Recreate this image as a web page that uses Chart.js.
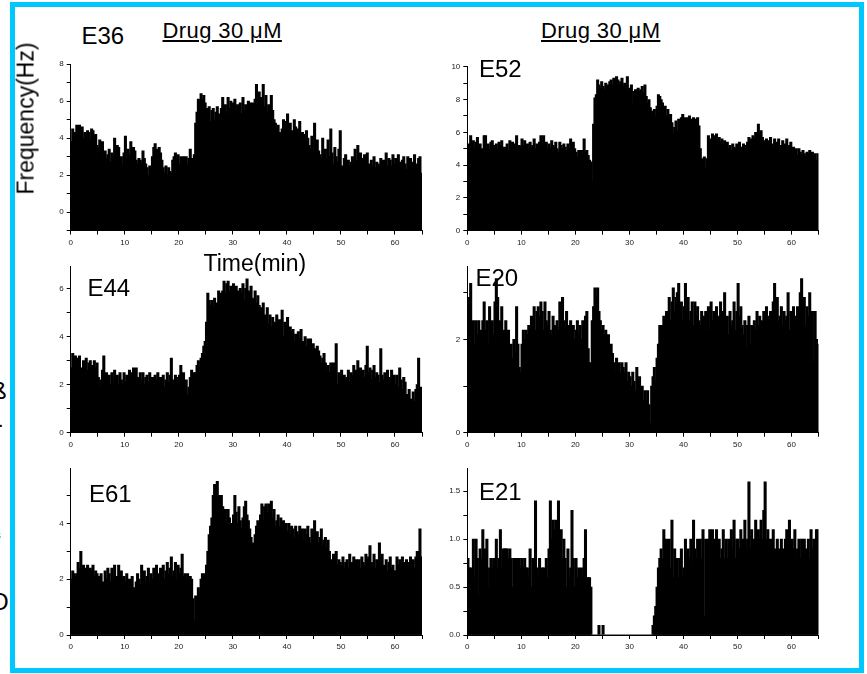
<!DOCTYPE html>
<html><head><meta charset="utf-8">
<script src="https://cdn.jsdelivr.net/npm/chart.js@4.4.0/dist/chart.umd.min.js"></script>
<style>
html,body{margin:0;padding:0;background:#fff;}
body{width:867px;height:674px;position:relative;overflow:hidden;font-family:"Liberation Sans",Arial,sans-serif;}
.frame{position:absolute;left:10px;top:2px;width:844px;height:661px;border:5px solid #00C8FF;}
canvas{position:absolute;}
.t{position:absolute;white-space:nowrap;color:#000;line-height:1;}
.clip{position:absolute;left:0;top:0;width:9px;height:674px;overflow:hidden;}
</style></head>
<body>
<div class="frame"></div>
<div class="clip" id="clip"></div>
<script>
// ---------- DATA (firing frequency, Hz, 0.25-min bins over 0-65 min) ----------
const xTicksMin = [0,10,20,30,40,50,60];
const binCount = 260;
const binWidthMin = 0.25;
const panelNames = ['E36','E52','E44','E20','E61','E21'];
const drugLabel = 'Drug 30 \u03bcM';

const e36 = [3.8,4.5,4.2,4.3, 4.7,4.2,4.7,4.4, 4.6,4.0,4.3,4.1, 4.4,4.3,3.9,4.5, 4.4,4.1,4.2,3.6,
 3.5,3.9,3.3,3.8, 3.0,3.3,2.9,3.1, 3.4,2.7,3.2,2.9, 4.0,3.0,3.6,3.5, 2.6,3.0,2.5,3.2,
 4.1,2.9,3.4,3.1, 3.8,2.8,3.5,3.3, 2.8,2.6,2.9,2.8, 2.7,3.3,2.9,2.6, 2.4,2.0,2.5,2.3,
 3.0,3.5,3.7,3.4, 3.1,3.5,3.2,2.8, 2.4,2.1,2.5,2.0, 2.4,2.2,2.1,2.8, 3.0,3.2,2.9,3.1,
 2.6,3.0,2.5,3.0, 2.8,3.0,2.6,2.9, 3.4,2.9,2.5,3.1, 4.8,5.4,6.1,6.0, 6.4,6.1,6.3,5.9,
 5.6,5.3,5.7,4.9, 5.5,5.6,5.0,5.4, 5.7,5.3,4.9,5.6, 6.2,5.5,5.8,5.3, 6.2,5.6,6.0,5.7,
 5.9,6.1,5.4,5.8, 5.0,5.9,5.3,6.2, 5.5,5.8,5.7,6.0, 5.9,5.6,5.9,5.8, 6.1,6.9,6.0,6.5,
 6.2,5.8,6.9,5.7, 6.3,5.4,5.8,5.2, 6.3,5.5,5.0,4.8, 4.5,4.7,4.3,4.1, 4.5,5.0,4.4,4.9,
 5.3,4.6,4.8,4.4, 4.3,5.0,4.6,4.2, 4.5,4.9,3.9,4.3, 4.2,3.8,4.4,4.0, 3.6,3.4,4.1,3.3,
 4.8,3.5,3.9,3.3, 3.1,2.9,4.0,3.2, 3.4,2.8,3.9,3.0, 4.5,3.2,2.6,3.5, 3.0,2.7,3.4,4.4,
 2.5,2.3,2.9,3.1, 2.4,2.8,2.5,2.7, 3.0,2.6,3.4,2.8, 3.6,2.9,3.2,2.5, 2.9,3.1,2.4,3.2,
 2.6,2.3,2.8,2.5, 3.0,2.4,2.7,2.6, 2.5,2.9,2.3,2.8, 2.6,3.2,2.5,2.9, 2.8,2.5,3.1,2.6,
 2.9,2.4,3.1,2.7, 2.5,2.8,3.0,2.6, 2.3,3.0,2.6,2.9, 2.5,2.7,3.1,2.4, 2.6,2.9,3.0,2.1];

const e52 = [5.1,5.3,5.8,5.2, 5.5,5.0,5.4,5.7, 5.1,5.3,5.0,4.9, 5.8,5.8,5.1,5.3, 5.0,5.4,5.5,5.2,
 5.1,5.3,5.0,5.4, 5.2,5.5,4.9,5.1, 5.0,5.3,4.9,5.5, 5.1,5.4,5.0,5.3, 5.8,5.0,5.2,5.1,
 5.6,5.2,5.5,5.0, 5.3,4.9,5.4,5.1, 5.2,5.6,5.0,5.3, 5.1,5.4,5.8,5.2, 5.8,5.1,5.4,5.0,
 5.3,5.0,5.5,5.2, 5.1,5.4,5.0,4.8, 5.4,5.2,5.0,5.3, 5.1,4.9,5.3,5.0, 5.6,5.2,5.4,5.0,
 4.8,4.5,4.9,4.6, 4.9,4.7,5.6,4.8, 4.9,4.6,4.3,4.2, 3.0,6.5,8.1,8.3, 9.2,8.9,8.7,9.1,
 8.8,8.6,9.0,8.8, 8.9,9.1,9.2,8.9, 9.3,9.0,9.4,9.2, 8.9,9.1,9.3,8.8, 9.0,8.8,9.4,8.6,
 8.7,8.9,7.7,8.5, 8.6,8.4,8.7,8.5, 8.6,8.8,8.4,8.9, 8.2,7.8,8.0,7.5, 7.3,6.9,7.4,7.0,
 7.6,8.3,8.2,8.0, 7.8,7.2,7.6,7.0, 7.4,6.9,7.1,6.6, 5.9,6.3,6.7,6.1, 6.8,6.4,6.9,7.1,
 6.6,6.9,6.5,6.9, 7.0,6.7,6.8,6.9, 6.5,6.8,6.9,6.4, 5.0,4.4,4.0,4.5, 3.8,4.4,5.8,5.4,
 5.6,5.9,5.3,5.8, 5.9,5.5,5.7,5.4, 5.6,5.3,5.5,5.2, 5.4,5.0,5.2,4.9, 5.3,5.1,5.0,5.3,
 5.2,5.4,5.1,5.0, 5.3,5.1,5.2,5.4, 5.7,5.5,5.6,5.8, 5.6,6.0,5.8,6.5, 5.9,6.1,5.7,5.5,
 5.4,5.6,5.2,5.5, 5.7,5.3,5.1,5.6, 5.0,5.4,5.6,5.1, 5.2,5.5,4.9,5.3, 5.6,5.0,5.2,5.4,
 4.9,5.1,4.7,5.0, 4.6,5.0,4.8,4.6, 4.9,4.7,4.5,4.8, 4.7,4.9,4.6,4.8, 4.5,4.7,4.3,4.7];

const e44 = [2.7,3.3,3.1,3.2, 3.1,2.9,3.2,2.7, 2.6,3.0,2.8,3.1, 2.6,2.9,3.0,2.8, 2.5,3.0,2.7,2.9,
 2.3,1.9,2.2,2.6, 3.2,2.3,2.5,2.1, 2.4,2.0,2.5,2.2, 2.6,2.1,2.4,2.0, 2.5,2.2,2.0,2.5,
 2.1,2.4,2.0,2.6, 2.5,2.2,2.7,2.1, 2.7,2.3,2.0,2.5, 2.2,2.5,2.0,2.3, 2.4,2.1,2.5,2.0,
 2.3,2.0,2.4,2.2, 2.5,2.1,2.3,2.0, 2.4,1.9,2.2,2.5, 2.1,2.4,3.1,2.2, 2.0,2.4,2.3,2.1,
 2.4,2.8,2.2,2.5, 2.0,2.2,1.6,1.9, 2.3,2.6,2.2,2.5, 2.5,2.8,3.0,2.7, 3.1,3.3,3.6,3.8,
 4.6,5.8,5.5,5.3, 5.5,5.2,5.6,5.3, 5.4,5.9,5.6,5.8, 5.9,6.3,5.8,6.2, 6.3,5.9,6.1,5.7,
 6.2,5.8,6.1,5.9, 5.7,6.0,5.8,6.2, 5.5,6.0,6.4,5.9, 5.8,6.1,5.6,5.5, 5.9,5.4,5.7,5.3,
 5.2,5.0,5.4,4.9, 4.7,5.2,4.5,4.9, 4.4,4.8,4.0,4.6, 4.9,4.2,4.7,4.1, 5.1,4.0,4.6,4.3,
 4.8,3.9,4.4,4.2, 4.3,3.8,4.1,4.0, 4.2,3.9,4.3,3.8, 3.7,4.0,3.6,3.9, 3.6,3.9,3.5,3.7,
 3.5,3.3,3.6,3.4, 3.2,2.9,3.1,3.3, 2.9,2.6,2.8,2.5, 2.9,2.7,2.9,2.6, 3.7,2.0,2.5,2.3,
 2.6,2.1,2.4,2.2, 2.3,2.6,2.1,2.5, 2.4,2.8,2.3,2.6, 3.0,2.4,2.7,2.2, 2.6,2.3,2.8,3.6,
 2.5,2.7,2.2,2.6, 2.8,2.3,2.5,2.4, 2.1,3.5,2.4,2.2, 2.5,2.0,2.6,2.3, 2.2,2.6,2.0,2.4,
 2.0,2.4,1.9,2.7, 2.2,1.8,2.3,2.1, 1.6,1.2,1.8,1.4, 0.7,1.7,1.3,1.8, 2.0,3.1,0.3,1.9];

const e20 = [1.9,2.9,3.2,2.3, 2.4,1.9,2.4,2.1, 2.4,1.8,2.2,2.4, 2.8,2.2,2.4,1.9, 2.7,2.0,2.4,2.1,
 2.8,3.3,2.9,2.1, 2.4,2.7,1.6,2.2, 2.4,1.8,2.2,1.8, 1.9,1.6,2.0,1.7, 2.7,1.9,1.4,1.3,
 1.9,2.2,2.0,2.2, 2.1,2.3,2.0,2.5, 2.3,2.7,2.2,2.6, 2.7,2.5,2.8,2.6, 2.2,2.8,2.4,2.3,
 2.6,2.2,2.1,2.5, 2.3,2.1,2.4,2.2, 2.8,2.5,2.9,2.4, 2.2,2.6,2.0,2.3, 2.4,2.1,2.3,2.0,
 2.2,2.4,2.1,2.3, 2.0,2.4,2.2,2.5, 2.6,1.8,1.5,0.5, 2.4,2.7,3.1,2.9, 3.1,2.6,2.4,2.2,
 2.3,2.1,2.2,2.0, 2.1,1.8,1.9,1.7, 1.5,1.3,1.6,1.4, 1.5,1.3,1.5,1.4, 1.3,1.5,1.1,1.3,
 1.2,1.0,1.3,1.1, 0.9,1.4,1.0,1.2, 0.8,1.0,0.7,0.9, 0.7,0.9,0.6,0.2, 1.0,1.2,1.4,1.1,
 1.6,1.9,2.3,2.3, 2.3,2.5,2.4,2.6, 2.5,2.9,2.4,2.8, 3.1,2.6,2.9,3.0, 3.2,2.5,2.8,2.4,
 2.7,3.2,2.5,2.9, 2.4,2.6,2.8,2.3, 2.8,2.5,2.7,2.4, 2.3,2.6,2.2,2.5, 2.6,2.3,2.7,2.2,
 2.8,2.4,2.6,2.3, 2.7,2.2,2.5,2.8, 2.3,2.6,3.0,2.2, 2.5,2.1,2.6,2.3, 2.4,2.8,2.2,2.6,
 3.2,2.5,2.7,2.3, 2.1,2.4,1.8,2.3, 2.5,1.9,2.3,2.0, 2.4,2.2,2.6,2.3, 2.5,2.2,2.4,2.6,
 2.3,2.7,2.5,2.4, 2.6,2.3,2.8,3.2, 2.6,2.9,2.4,2.5, 2.7,2.3,2.6,2.4, 2.5,3.0,2.2,2.6,
 2.3,2.7,2.1,2.5, 2.7,2.6,3.0,3.3, 2.6,2.9,2.3,2.7, 2.5,3.0,2.4,2.6, 1.5,2.6,2.0,1.9];

const e61 = [2.0,2.3,2.2,2.1, 2.2,2.6,2.4,3.0, 2.3,2.5,2.2,2.4, 2.5,2.2,2.4,2.3, 2.5,2.1,2.3,2.2,
 2.1,2.0,2.2,1.9, 1.8,2.3,2.0,2.4, 2.2,1.9,2.4,2.0, 2.5,1.9,2.1,2.5, 1.8,2.3,2.0,2.1,
 1.9,2.2,1.7,2.0, 1.8,2.1,1.7,1.4, 1.9,2.2,2.0,1.8, 2.5,2.0,2.3,1.9, 2.1,2.4,1.9,2.2,
 2.0,2.4,2.1,2.5, 2.2,1.9,2.4,2.1, 2.5,2.0,2.3,2.6, 2.2,2.4,2.8,2.1, 2.3,2.6,2.0,2.5,
 2.2,2.4,2.9,2.1, 2.2,2.0,2.2,1.9, 2.1,2.0,1.3,0.5, 1.4,1.3,1.7,1.5, 2.0,2.2,2.1,2.2,
 2.5,3.0,3.6,3.9, 4.2,5.0,5.4,5.0, 5.5,5.0,4.8,5.0, 4.6,4.3,4.5,4.0, 4.5,4.2,4.0,3.8,
 4.3,5.0,4.4,4.0, 4.6,4.1,3.8,4.2, 4.6,4.8,4.3,4.1, 3.8,3.5,3.3,3.2, 3.6,3.9,4.1,3.8,
 4.3,4.7,4.1,4.6, 4.7,4.4,4.7,4.2, 4.8,4.2,4.5,3.9, 4.1,4.3,3.9,4.2, 3.8,4.1,3.9,4.0,
 3.7,4.0,3.6,3.9, 3.8,3.5,3.9,3.7, 3.6,3.9,3.5,3.8, 3.4,3.8,3.6,3.9, 3.5,3.3,3.8,3.6,
 4.1,3.4,3.7,3.3, 3.5,3.8,3.2,3.4, 3.5,3.1,3.4,3.0, 2.7,2.5,2.9,2.6, 3.0,2.5,2.7,2.6,
 2.5,2.8,2.4,2.6, 2.7,2.4,2.9,2.5, 2.6,2.8,2.4,2.7, 2.5,2.7,2.4,2.8, 2.6,2.5,2.9,2.7,
 2.8,3.2,2.6,2.5, 2.9,2.4,2.7,2.6, 3.3,2.6,2.9,2.5, 2.4,2.7,2.3,2.6, 2.8,2.4,2.5,2.3,
 2.3,2.8,2.5,2.7, 2.4,2.8,2.6,2.5, 2.7,2.4,2.6,2.8, 2.5,2.7,2.4,2.8, 3.0,3.0,3.8,2.8];

const e21 = [0.8,0.7,0.7,0.6, 1.0,0.6,1.0,0.8, 0.4,0.9,0.8,1.1, 0.8,0.9,1.0,0.5, 0.7,0.8,0.7,0.8,
 0.7,1.0,0.7,0.8, 1.1,0.7,0.9,0.9, 0.9,0.9,0.8,0.9, 0.8,0.5,0.8,0.8, 0.8,0.5,0.8,0.7,
 0.8,0.7,0.8,0.7, 0.7,0.6,0.9,0.5, 0.8,0.6,1.4,0.7, 0.6,0.8,0.6,0.7, 0.7,0.6,0.8,0.6,
 0.9,1.4,1.0,1.2, 1.1,1.2,1.0,1.4, 0.9,1.1,0.8,1.0, 0.8,0.5,0.9,0.6, 0.7,1.3,0.8,0.5,
 0.8,0.6,0.7,0.5, 0.7,0.6,0.8,1.1, 0.6,0.6,0.6,0.5, 0,0,0,0, 0,0.1,0,0,
 0.1,0,0,0, 0,0,0,0, 0,0,0,0, 0,0,0,0, 0,0,0,0,
 0,0,0,0, 0,0,0,0, 0,0,0,0, 0,0,0,0, 0,0.1,0.2,0.3,
 0.5,0.7,0.8,0.9, 0.8,1.1,0.9,1.0, 0.8,1.0,0.7,1.2, 0.6,0.9,0.6,0.8, 0.6,0.8,0.9,0.6,
 0.7,1.0,0.8,0.9, 0.8,1.0,0.7,1.2, 0.9,0.8,1.0,0.7, 1.0,0.8,1.1,0.2, 1.0,0.9,1.0,1.1,
 0.9,1.1,0.9,1.0, 1.1,0.9,1.0,0.8, 0.9,1.1,0.8,1.0, 0.8,1.0,0.9,1.1, 0.9,1.2,0.8,1.0,
 1.0,0.9,1.1,0.8, 1.0,1.2,0.9,1.0, 1.6,0.9,1.1,0.9, 1.0,1.2,0.9,1.1, 1.0,1.2,1.0,1.3,
 1.6,1.0,1.1,0.9, 1.0,0.9,1.1,0.9, 0.8,1.0,0.9,0.8, 1.0,0.9,0.8,1.0, 1.1,0.9,1.2,0.8,
 1.0,0.9,1.1,0.8, 0.9,1.0,0.8,1.0, 0.8,1.0,0.9,0.7, 1.0,0.8,1.1,0.9, 1.0,0.8,1.1,1.1];

// bin centres (minutes) - the category positions on the time axis
const binCenters = Array.from({length: binCount}, (_, i) => (i + 0.5) * binWidthMin);

// ---------- LAYOUT ----------
const FONT = '"Liberation Sans", Arial, sans-serif';
const panels = [
  {values:e36, L:70.7,  T:64,    R:422,   B:230.5, min:-1, max:8,    step:1,    base:-1, lab:v=>v>=0&&v%2===0},
  {values:e52, L:467.3, T:66.7,  R:818.5, B:230.7, min:0,  max:10,   step:1,    lab:v=>v%2===0},
  {values:e44, L:70.7,  T:266,   R:422,   B:432.7, min:0,  max:6.93, step:1,    lab:v=>v%2===0},
  {values:e20, L:467.3, T:266,   R:818.5, B:432.7, min:0,  max:3.57, step:1,    lab:v=>v%2===0},
  {values:e61, L:70.7,  T:468.3, R:422,   B:635,   min:0,  max:5.97, step:1,    lab:v=>v%2===0},
  {values:e21, L:467.3, T:468.3, R:818.5, B:635,   min:0,  max:1.74, step:0.25, lab:v=>Math.abs(v*2-Math.round(v*2))<1e-9, fmt:v=>v.toFixed(1)}
];

panels.forEach(p => {
  const cv = document.createElement('canvas');
  const left = Math.floor(p.L) - 50, top = Math.floor(p.T) - 10;
  const right = Math.ceil(p.R) + 10, bottom = Math.ceil(p.B) + 22;
  const w = right - left, h = bottom - top;
  cv.width = w; cv.height = h;
  Object.assign(cv.style, {left:left+'px', top:top+'px', width:w+'px', height:h+'px'});
  document.body.appendChild(cv);
  const yw = p.L - left, xh = bottom - p.B;
  const ds = {
    data: p.values.map((v, i) => ({x: binCenters[i], y: v})),
    backgroundColor: '#000', borderWidth: 0,
    barThickness: 2.4
  };
  if (p.base !== undefined) ds.base = p.base;
  new Chart(cv, {
    type: 'bar',
    data: {datasets: [ds]},
    options: {
      responsive: false, animation: false, devicePixelRatio: 1,
      events: [],
      plugins: {legend: {display: false}, tooltip: {enabled: false}},
      layout: {padding: {left: 0, top: p.T - top, right: right - p.R, bottom: 0}},
      scales: {
        x: {
          type: 'linear', min: 0, max: 65, offset: false,
          afterFit: s => { s.height = xh; },
          afterBuildTicks: s => { s.ticks = s.ticks.filter(t => Math.abs(t.value/5 - Math.round(t.value/5)) < 1e-9); },
          ticks: {stepSize: 5, autoSkip: false, maxRotation: 0, padding: 3,
                  callback: v => xTicksMin.includes(v) ? String(v) : '',
                  font: {size: 8, family: FONT}, color: '#222'},
          grid: {drawOnChartArea: false, drawTicks: true, tickLength: 4, tickColor: '#000', offset: false},
          border: {display: true, color: '#000', width: 1}
        },
        y: {
          min: p.min, max: p.max,
          afterFit: s => { s.width = yw; },
          afterBuildTicks: s => { s.ticks = s.ticks.filter(t => Math.abs(t.value/p.step - Math.round(t.value/p.step)) < 1e-9); },
          ticks: {stepSize: p.step, autoSkip: false, padding: 3,
                  callback: v => p.lab(v) ? (p.fmt ? p.fmt(v) : String(v)) : '',
                  font: {size: 8, family: FONT}, color: '#222'},
          grid: {drawOnChartArea: false, drawTicks: true, tickLength: 4, tickColor: '#000'},
          border: {display: true, color: '#000', width: 1}
        }
      }
    }
  });
});

// ---------- TEXT ----------
function txt(s, left, baseline, size, extra) {
  const d = document.createElement('div');
  d.className = 't'; d.textContent = s;
  d.style.fontSize = size + 'px';
  d.style.left = left + 'px';
  d.style.top = (baseline - 0.8465 * size) + 'px';
  if (extra) Object.assign(d.style, extra);
  document.body.appendChild(d);
  return d;
}
const nameSpots = [[81.5,44,24],[479,77.5,24],[87.5,296.7,24],[475.5,286.7,24],[89,502.7,24],[479,500,24]];
panelNames.forEach((n, i) => txt(n, nameSpots[i][0], nameSpots[i][1], nameSpots[i][2]));
const ul = {textDecoration: 'underline', textUnderlineOffset: '2px', letterSpacing: '0.4px'};
txt(drugLabel, 162.5, 38.5, 22, ul);
txt(drugLabel, 541, 39, 22, ul);
txt('Time(min)', 203.5, 271, 23);
const fr = txt('Frequency(Hz)', 0, 0, 23);
const fw = fr.offsetWidth, fh = fr.offsetHeight;
fr.style.left = (25.5 - fw/2) + 'px';
fr.style.top = (118.3 - fh/2) + 'px';
fr.style.transform = 'rotate(-90deg)';

// clipped fragments of a neighbouring figure at the far left
const clip = document.getElementById('clip');
[['\u00df', -8, 379, 24], ['.', -2, 410, 20], ['\u2018', -3, 530, 20], ['O', -10, 590, 24]].forEach(f => {
  const d = document.createElement('div');
  d.className = 't'; d.textContent = f[0];
  d.style.fontSize = f[3] + 'px'; d.style.left = f[1] + 'px'; d.style.top = f[2] + 'px';
  clip.appendChild(d);
});
</script>
</body></html>
